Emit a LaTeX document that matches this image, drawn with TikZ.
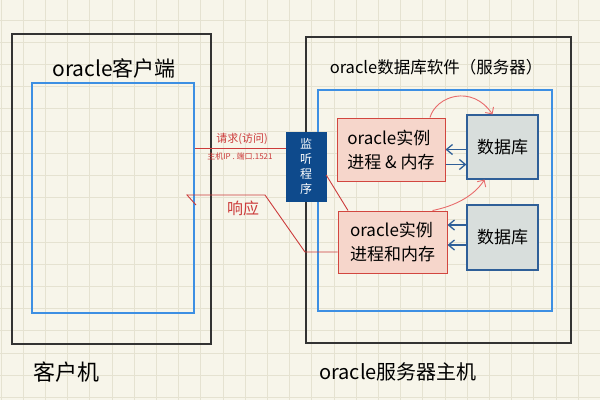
\documentclass[tikz,border=0pt]{standalone}
\usepackage{fontspec}
\setmainfont{Noto Sans CJK SC}
\usetikzlibrary{arrows.meta}
\definecolor{paper}{HTML}{F7F5EA}
\definecolor{gridc}{HTML}{E5E2D1}
\definecolor{frameblue}{HTML}{3D8FE3}
\definecolor{navy}{HTML}{0E4A8C}
\definecolor{instfill}{HTML}{F6D6CB}
\definecolor{instline}{HTML}{D2463F}
\definecolor{dbfill}{HTML}{D8DEDC}
\definecolor{dbline}{HTML}{2F5F98}
\definecolor{redink}{HTML}{CC3B3B}
\definecolor{pinkink}{HTML}{E86B6B}
\begin{document}
\begin{tikzpicture}[x=1pt, y=-1pt,
  frame/.style={draw=black!80, line width=1.3pt, minimum width=#1},
  inner/.style={draw=frameblue, line width=1.4pt},
  listen/.style={fill=navy, draw=navy, text=white, align=center, font=\fontsize{12}{16}\selectfont,
    minimum width=40pt, minimum height=69pt, inner sep=0pt},
  inst/.style={fill=instfill, draw=instline, line width=1pt, align=left, font=\fontsize{17}{24}\selectfont},
  db/.style={fill=dbfill, draw=dbline, line width=1.2pt, font=\fontsize{17}{20}\selectfont,
    minimum width=71pt},
  arr/.style={-{Straight Barb[length=6pt, width=10pt]}, draw=dbline, line width=1.3pt},
  wire/.style={draw=redink, line width=0.9pt},
  hand/.style={-{Straight Barb[length=5pt, width=10pt]}, draw=pinkink, line width=0.9pt},
  note/.style={text=redink, inner sep=0pt},
  title/.style={font=\fontsize{#1}{#1}\selectfont, inner sep=0pt}
]
\useasboundingbox (0,0) rectangle (600,400);
\fill[paper] (0,0) rectangle (600,400);
\foreach \gx in {1,23.2,...,600} \draw[gridc, line width=0.8pt] (\gx,0) -- (\gx,400);
\foreach \gy in {20,42.2,...,400} \draw[gridc, line width=0.8pt] (0,\gy) -- (600,\gy);

% client side
\node[frame=199pt, minimum height=310pt] (client) at (111.5,189) {};
\node[inner, minimum width=162pt, minimum height=230pt] (clientin) at (113,198) {};
\node[title=21] (clienttitle) at (114,68) {oracle客户端};

% server side
\node[frame=265pt, minimum height=306pt] (server) at (438.5,190) {};
\node[inner, minimum width=234pt, minimum height=221pt] (serverin) at (435,200.5) {};
\node[title=16.5] (servertitle) at (436,67) {oracle数据库软件（服务器）};

\node[listen] (listener) at (306,166.5) {监\\[-1pt]听\\[-1pt]程\\[-1pt]序};

\node[inst, minimum width=108pt, minimum height=63pt] (inst1) at (391,149.5) {oracle实例\\进程 \& 内存};
\node[inst, minimum width=109pt, minimum height=62pt] (inst2) at (392.5,242) {oracle实例\\进程和内存};
\node[db, minimum height=64pt] (db1) at (502.5,147) {数据库};
\node[db, minimum height=65pt] (db2) at (502.5,237.5) {数据库};

\draw[arr] (db1.west |- inst1.east) -- (inst1.east);
\draw[arr] ([yshift=-15pt]inst1.east) -- ([yshift=-15pt]inst1.east -| db1.west);
\draw[arr] ([yshift=17pt]inst2.east -| db2.west) -- ([yshift=17pt]inst2.east);
\draw[arr] ([yshift=-3pt]inst2.east -| db2.west) -- ([yshift=-3pt]inst2.east);

\draw[hand] ([xshift=39pt]inst1.north) .. controls (436,96) and (472,84) .. ([xshift=-10pt]db1.north);
\draw[hand] ([xshift=40pt]inst2.north) .. controls (455,206) and (474,196) .. ([xshift=-18pt]db1.south);

% request and response
\coordinate (resptip) at (186,195);
\draw[wire] ([yshift=18.5pt]listener.west) -- ([yshift=18.5pt]listener.west -| clientin.east);
\node[note, font=\fontsize{11}{11}\selectfont] (reqtext) at (242,139) {请求(访问)};
\node[note, font=\fontsize{8}{8}\selectfont] (reqaddr) at (240,156) {主机IP . 端口.1521};
\draw[wire] ([yshift=-8.5pt]listener.east) -- ([xshift=-44.5pt]inst2.north);
\draw[wire, -{Straight Barb[left, length=9pt, width=20pt]}] ([yshift=-10pt]inst2.west) -- (305,252) -- (265,195) -- (resptip);
\node[note, font=\fontsize{16}{16}\selectfont] (resptext) at (243,208) {响应};

\node[title=22] (clientname) at (66,372) {客户机};
\node[title=20] (servername) at (398,372) {oracle服务器主机};
\end{tikzpicture}
\end{document}
